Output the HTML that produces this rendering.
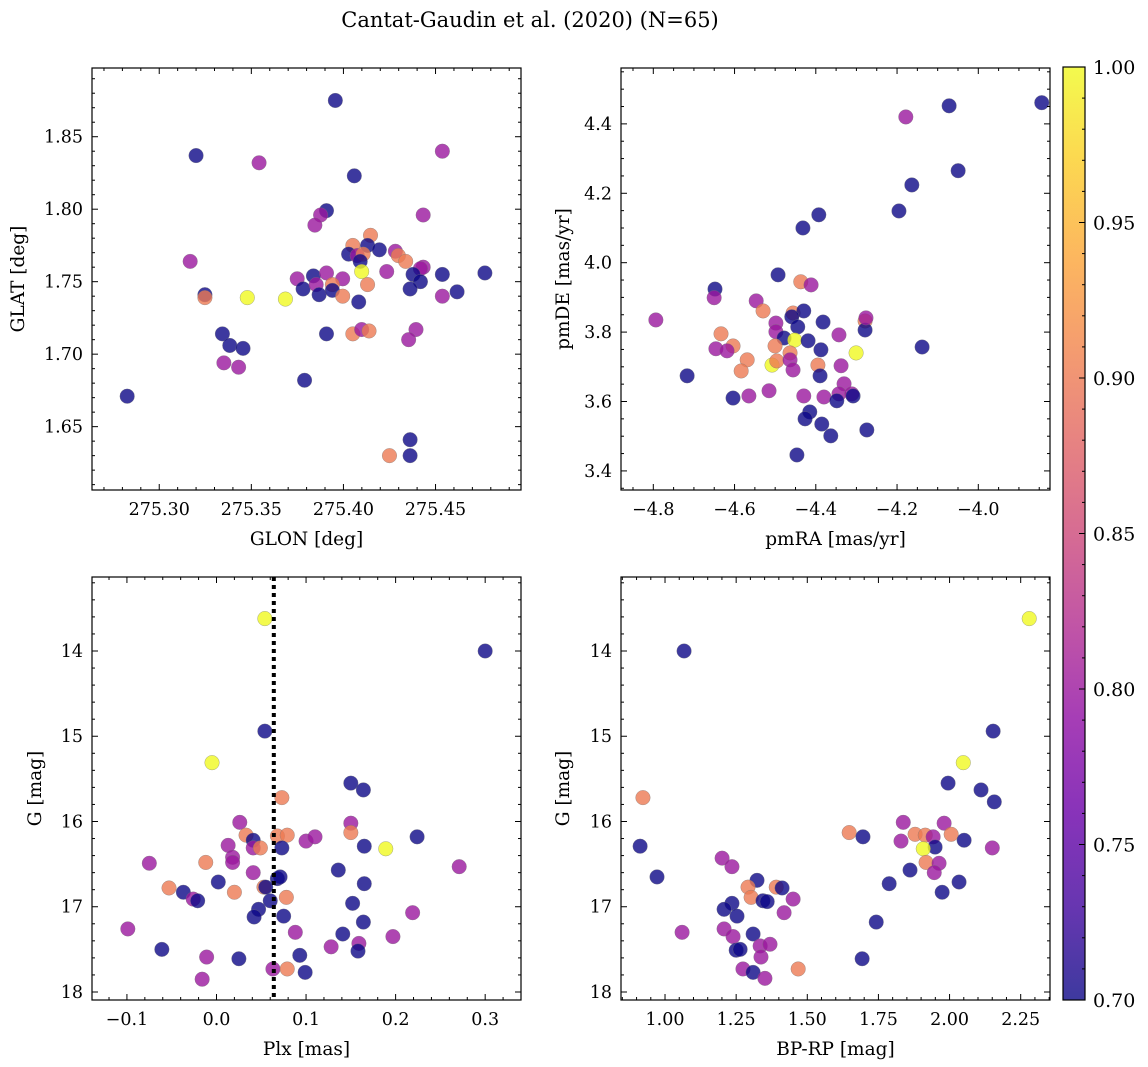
<!DOCTYPE html>
<html><head><meta charset="utf-8"><style>
body{margin:0;background:#fff;}
svg{display:block;font-family:"DejaVu Serif","Liberation Serif",serif;}
</style></head><body>
<svg id="fig" width="1148" height="1067" viewBox="0 0 1148 1067" xmlns="http://www.w3.org/2000/svg">
<text x="530" y="27" font-size="21" text-anchor="middle" fill="#000">Cantat-Gaudin et al. (2020) (N=65)</text>
</svg>
<script>
// Panel 1: GLON vs GLAT
const p1x=[275.2826,275.3200,275.3542,275.3168,275.3248,275.3248,275.3478,275.3685,275.3343,275.3383,275.3455,275.3351,275.3431,275.3956,275.4059,275.4537,275.3789,275.4250,275.4362,275.4362,275.4433,275.3908,275.3876,275.3845,275.4147,275.4051,275.4131,275.4195,275.4028,275.4075,275.4107,275.4091,275.4282,275.4298,275.4338,275.4433,275.4418,275.4537,275.4235,275.4099,275.4378,275.4418,275.4362,275.3749,275.3837,275.3908,275.3996,275.3781,275.3852,275.3868,275.3940,275.3940,275.3996,275.4131,275.4083,275.4537,275.4617,275.4768,275.3908,275.4051,275.4099,275.4139,275.4394,275.4354];
const p1y=[1.671,1.837,1.832,1.764,1.741,1.739,1.739,1.738,1.714,1.706,1.704,1.694,1.691,1.875,1.823,1.840,1.682,1.630,1.641,1.630,1.796,1.799,1.796,1.789,1.782,1.775,1.775,1.772,1.769,1.768,1.769,1.764,1.771,1.768,1.764,1.760,1.759,1.755,1.757,1.757,1.755,1.750,1.745,1.752,1.754,1.756,1.752,1.745,1.748,1.741,1.748,1.744,1.740,1.748,1.736,1.740,1.743,1.756,1.714,1.714,1.717,1.716,1.717,1.710];
const p1c=[0.70,0.70,0.80,0.80,0.70,0.90,1.0,1.0,0.70,0.70,0.70,0.80,0.80,0.70,0.70,0.80,0.70,0.90,0.70,0.70,0.80,0.70,0.80,0.80,0.90,0.90,0.70,0.70,0.70,0.80,0.90,0.70,0.80,0.90,0.90,0.80,0.80,0.70,0.80,1.0,0.70,0.70,0.70,0.80,0.70,0.80,0.80,0.70,0.80,0.70,0.90,0.70,0.90,0.90,0.70,0.80,0.70,0.70,0.70,0.90,0.80,0.90,0.80,0.80];
// Panel 2: pmRA vs pmDE
const p2x=[-4.7937,-4.7167,-4.1784,-4.0718,-3.8438,-4.1636,-4.0496,-4.1953,-4.3926,-4.4317,-4.1383,-4.2744,-4.4465,-4.6481,-4.6502,-4.4929,-4.4370,-4.4116,-4.5467,-4.5298,-4.4560,-4.4296,-4.4591,-4.3821,-4.4982,-4.4982,-4.4444,-4.2787,-4.2787,-4.2765,-4.6333,-4.6037,-4.6459,-4.6185,-4.4781,-4.4518,-4.4190,-4.5003,-4.3430,-4.3874,-4.3008,-4.4634,-4.5689,-4.5837,-4.5077,-4.4961,-4.4634,-4.4560,-4.3948,-4.3895,-4.3378,-4.6037,-4.5647,-4.5151,-4.4296,-4.3800,-4.3304,-4.3430,-4.3114,-4.3483,-4.3082,-4.4148,-4.4264,-4.3853,-4.3631];
const p2y=[3.835,3.674,4.420,4.452,4.461,4.224,4.265,4.149,4.138,4.100,3.757,3.518,3.446,3.924,3.899,3.965,3.945,3.936,3.890,3.861,3.855,3.861,3.844,3.829,3.826,3.801,3.815,3.832,3.806,3.841,3.795,3.760,3.752,3.746,3.783,3.777,3.775,3.760,3.792,3.749,3.740,3.740,3.720,3.688,3.705,3.717,3.720,3.691,3.705,3.674,3.703,3.610,3.616,3.631,3.616,3.613,3.651,3.622,3.622,3.602,3.616,3.570,3.550,3.535,3.501];
const p2c=[0.80,0.70,0.80,0.70,0.70,0.70,0.70,0.70,0.70,0.70,0.70,0.70,0.70,0.70,0.80,0.70,0.90,0.80,0.80,0.90,0.90,0.70,0.70,0.70,0.80,0.80,0.70,0.90,0.70,0.80,0.90,0.90,0.80,0.80,0.70,1.0,0.70,0.90,0.80,0.70,1.0,0.90,0.90,0.90,1.0,0.90,0.80,0.80,0.90,0.70,0.80,0.70,0.80,0.80,0.80,0.80,0.80,0.80,0.80,0.70,0.70,0.70,0.70,0.70,0.70];
// Panel 3: Plx vs G
const p3x=[0.054,0.300,-0.005,0.054,0.150,0.164,0.073,0.026,0.150,0.150,0.033,0.041,0.041,0.049,0.013,0.068,0.079,0.073,0.100,0.110,0.165,-0.075,-0.012,0.018,0.018,0.136,0.041,0.068,0.071,0.165,0.002,-0.053,-0.037,-0.026,-0.021,0.020,0.053,0.055,0.078,0.060,0.047,0.042,0.075,0.152,0.164,-0.099,0.088,0.141,0.128,0.159,0.158,-0.061,-0.011,0.025,0.093,0.063,0.079,0.099,-0.016,0.224,0.271,0.189,0.219,0.197];
const p3y=[13.62,14.00,15.31,14.94,15.55,15.63,15.72,16.01,16.02,16.13,16.16,16.22,16.31,16.31,16.28,16.17,16.16,16.31,16.23,16.18,16.29,16.49,16.48,16.42,16.48,16.57,16.60,16.67,16.65,16.73,16.71,16.78,16.83,16.91,16.93,16.83,16.77,16.77,16.89,16.93,17.03,17.12,17.11,16.96,17.18,17.26,17.30,17.32,17.47,17.43,17.52,17.50,17.59,17.61,17.57,17.73,17.73,17.77,17.85,16.18,16.53,16.32,17.07,17.35];
const p3c=[1.0,0.70,1.0,0.70,0.70,0.70,0.90,0.80,0.80,0.90,0.90,0.70,0.80,0.90,0.80,0.90,0.90,0.70,0.80,0.80,0.70,0.80,0.90,0.80,0.80,0.70,0.80,0.70,0.70,0.70,0.70,0.90,0.70,0.80,0.70,0.90,0.90,0.70,0.90,0.70,0.70,0.70,0.70,0.70,0.70,0.80,0.80,0.70,0.80,0.80,0.70,0.70,0.80,0.70,0.70,0.80,0.90,0.70,0.80,0.70,0.80,1.0,0.80,0.80];
// Panel 4: BP-RP vs G
const p4x=[2.2800,1.0670,0.9224,0.9125,0.9719,1.9948,2.1106,2.1572,2.1532,2.0482,1.8373,1.9809,1.6472,1.6957,1.8789,1.9146,1.9423,2.0057,2.0512,1.8294,1.9492,1.9076,2.1502,1.9175,1.9631,1.9462,1.8611,1.7878,2.0334,1.9740,1.7423,1.6928,1.2006,1.2353,1.3234,1.2917,1.3026,1.3908,1.4115,1.2353,1.2076,1.2531,1.3442,1.3591,1.4502,1.4185,1.0600,1.2076,1.2392,1.3096,1.2501,1.2640,1.3343,1.3690,1.3373,1.2739,1.3096,1.3511,1.4680];
const p4y=[13.62,14.00,15.72,16.29,16.65,15.55,15.63,15.77,14.94,15.31,16.01,16.02,16.13,16.18,16.15,16.16,16.18,16.15,16.22,16.23,16.30,16.32,16.31,16.48,16.49,16.60,16.57,16.73,16.71,16.83,17.18,17.61,16.43,16.53,16.69,16.77,16.89,16.77,16.78,16.96,17.03,17.11,16.93,16.94,16.91,17.07,17.30,17.26,17.35,17.32,17.51,17.50,17.46,17.44,17.59,17.73,17.77,17.84,17.73];
const p4c=[1.0,0.70,0.90,0.70,0.70,0.70,0.70,0.70,0.70,1.0,0.80,0.80,0.90,0.70,0.90,0.90,0.80,0.90,0.70,0.80,0.70,1.0,0.80,0.90,0.80,0.80,0.70,0.70,0.70,0.70,0.70,0.70,0.80,0.80,0.70,0.90,0.90,0.90,0.70,0.70,0.70,0.70,0.70,0.70,0.80,0.80,0.80,0.80,0.80,0.70,0.70,0.70,0.80,0.80,0.80,0.80,0.70,0.80,0.90];
const plxLine=0.064;
const cbTicks=[0.70,0.75,0.80,0.85,0.90,0.95,1.00];

const NS='http://www.w3.org/2000/svg';
const svg=document.getElementById('fig');
function mk(tag,attrs,parent){const e=document.createElementNS(NS,tag);for(const k in attrs)e.setAttribute(k,attrs[k]);(parent||svg).appendChild(e);return e;}
const stops=[[0,13,8,135],[0.1,65,4,157],[0.2,106,0,168],[0.3,143,13,164],[0.4,177,42,144],[0.5,204,71,120],[0.6,225,100,98],[0.7,242,132,75],[0.8,252,166,54],[0.9,252,206,37],[1,240,249,33]];
function plasma(t){t=Math.max(0,Math.min(1,t));for(let i=1;i<stops.length;i++){if(t<=stops[i][0]){const a=stops[i-1],b=stops[i];const f=(t-a[0])/(b[0]-a[0]);return `rgb(${Math.round(a[1]+f*(b[1]-a[1]))},${Math.round(a[2]+f*(b[2]-a[2]))},${Math.round(a[3]+f*(b[3]-a[3]))})`;}}return 'rgb(240,249,33)';}
function cnorm(v){return (v-0.7)/0.3;}

function panel(o){
  const {name,L,R,T,B,xmin,xmax,ymin,ymax,invert,xmaj,xmin_,ymaj,ymin_,xdec,ydec,xlab,ylab,xs,ys,cs}=o;
  const g=mk('g',{});
  
  
  const sx=v=>L+(v-xmin)/(xmax-xmin)*(R-L);
  const sy=v=>invert? T+(v-ymin)/(ymax-ymin)*(B-T) : B-(v-ymin)/(ymax-ymin)*(B-T);
  const pts=mk('g',{},g);
  
  
  for(let i=0;i<xs.length;i++){
    const c=mk('circle',{cx:sx(xs[i]),cy:sy(ys[i]),r:7.3,fill:plasma(cnorm(cs[i])),'fill-opacity':0.8,stroke:'#777','stroke-width':0.4,'stroke-opacity':0.8},pts);
    
    
  }
  if(o.vline!==undefined){
    const l=mk('line',{x1:sx(o.vline),x2:sx(o.vline),y1:T,y2:B,stroke:'#000','stroke-width':4,'stroke-dasharray':'4,4'},g);
    
    
  }
  const fr=mk('rect',{x:L,y:T,width:R-L,height:B-T,fill:'none',stroke:'#000','stroke-width':1.2},g);
  
  
  const eps=1e-9;
  const xstart=Math.ceil(xmin/xmin_-eps);
  for(let k=xstart;k*xmin_<=xmax+eps;k++){
    const v=k*xmin_;const X=sx(v);
    const isMaj=Math.abs(v/xmaj-Math.round(v/xmaj))<1e-6;
    const len=isMaj?6:3;
    mk('line',{x1:X,x2:X,y1:B,y2:B-len,stroke:'#000','stroke-width':1},g);
    mk('line',{x1:X,x2:X,y1:T,y2:T+len,stroke:'#000','stroke-width':1},g);
    if(isMaj){
      const t=mk('text',{x:X,y:B+25,'font-size':17.5,'text-anchor':'middle'},g);
      
      
      let s=v.toFixed(xdec);if(Math.abs(v)<1e-9)s=(0).toFixed(xdec);
      t.textContent=s.replace('-','\u2212');
    }
  }
  const ystart=Math.ceil(ymin/ymin_-eps);
  for(let k=ystart;k*ymin_<=ymax+eps;k++){
    const v=k*ymin_;const Y=sy(v);
    const isMaj=Math.abs(v/ymaj-Math.round(v/ymaj))<1e-6;
    const len=isMaj?6:3;
    mk('line',{x1:L,x2:L+len,y1:Y,y2:Y,stroke:'#000','stroke-width':1},g);
    mk('line',{x1:R,x2:R-len,y1:Y,y2:Y,stroke:'#000','stroke-width':1},g);
    if(isMaj){
      const t=mk('text',{x:L-9,y:Y+6,'font-size':17.5,'text-anchor':'end'},g);
      
      
      t.textContent=v.toFixed(ydec);
    }
  }
  const xl=mk('text',{x:(L+R)/2,y:B+55,'font-size':18.5,'text-anchor':'middle'},g);
  
  
  xl.textContent=xlab;
  const yx=o.ylx;
  const yl=mk('text',{x:yx,y:(T+B)/2,'font-size':18.5,'text-anchor':'middle',transform:`rotate(-90 ${yx} ${(T+B)/2})`},g);
  
  
  yl.textContent=ylab;
}
panel({name:'glon-glat-panel',L:92,R:521,T:68,B:490,xmin:275.2635,xmax:275.4964,ymin:1.6063,ymax:1.8974,xmaj:0.05,xmin_:0.01,ymaj:0.05,ymin_:0.01,xdec:2,ydec:2,xlab:'GLON [deg]',ylab:'GLAT [deg]',ylx:24,xs:p1x,ys:p1y,cs:p1c});
panel({name:'proper-motion-panel',L:621,R:1050,T:68,B:490,xmin:-4.8795,xmax:-3.8235,ymin:3.345,ymax:4.561,xmaj:0.2,xmin_:0.05,ymaj:0.2,ymin_:0.05,xdec:1,ydec:1,xlab:'pmRA [mas/yr]',ylab:'pmDE [mas/yr]',ylx:569,xs:p2x,ys:p2y,cs:p2c});
panel({name:'parallax-magnitude-panel',L:92,R:521,T:577,B:1000,xmin:-0.139,xmax:0.340,ymin:13.132,ymax:18.094,invert:true,xmaj:0.1,xmin_:0.02,ymaj:1,ymin_:0.2,xdec:1,ydec:0,xlab:'Plx [mas]',ylab:'G [mag]',ylx:41,xs:p3x,ys:p3y,cs:p3c,vline:plxLine});
panel({name:'color-magnitude-panel',L:621,R:1050,T:577,B:1000,xmin:0.8453,xmax:2.353,ymin:13.132,ymax:18.094,invert:true,xmaj:0.25,xmin_:0.05,ymaj:1,ymin_:0.2,xdec:2,ydec:0,xlab:'BP-RP [mag]',ylab:'G [mag]',ylx:569,xs:p4x,ys:p4y,cs:p4c});

const cb=mk('g',{});


const defs=mk('defs',{},cb);
const lg=mk('linearGradient',{id:'pl',x1:0,y1:1,x2:0,y2:0},defs);
for(const s of stops){mk('stop',{offset:s[0],'stop-color':`rgb(${s[1]},${s[2]},${s[3]})`},lg);}
const CL=1063,CR=1085,CT=67,CB=1000;
mk('rect',{x:CL,y:CT,width:CR-CL,height:CB-CT,fill:'url(#pl)','fill-opacity':0.8},cb);
mk('rect',{x:CL,y:CT,width:CR-CL,height:CB-CT,fill:'none',stroke:'#000','stroke-width':1.2},cb);
const cy=v=>CB-(v-0.7)/0.3*(CB-CT);
for(let k=70;k<=100;k++){
  const v=k/100;const Y=cy(v);const maj=k%5===0;
  mk('line',{x1:CR,x2:CR-(maj?6:3),y1:Y,y2:Y,stroke:'#000','stroke-width':1},cb);
}
for(const v of cbTicks){
  const t=mk('text',{x:1093,y:cy(v)+7,'font-size':19},cb);
  
  
  t.textContent=v.toFixed(2);
}
</script>
</body></html>
